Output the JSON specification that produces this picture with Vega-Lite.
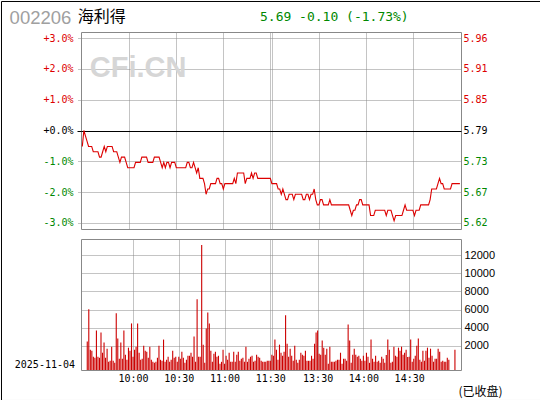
{
  "$schema": "https://vega.github.io/schema/vega-lite/v6.json",
  "padding": 0,
  "background": "white",
  "bounds": "flush",
  "spacing": 10,
  "config": {
    "view": {"stroke": "#888888", "strokeWidth": 1},
    "axis": {"gridColor": "#888888", "gridDash": [1, 1], "gridWidth": 1, "domain": false, "ticks": false, "title": null, "labelFont": "DejaVu Sans Mono", "labelFontSize": 10, "labelColor": "black", "labelOverlap": false, "labelFlush": false}
  },
  "data": {"values": [
    {"m":0,"p":5.76,"v":2481},{"m":1,"p":5.79,"v":6037},{"m":2,"p":5.78,"v":1593},{"m":3,"p":5.77,"v":1481},{"m":4,"p":5.76,"v":815},{"m":5,"p":5.76,"v":704},{"m":6,"p":5.76,"v":3704},{"m":7,"p":5.75,"v":815},{"m":8,"p":5.75,"v":704},{"m":9,"p":5.75,"v":3481},
    {"m":10,"p":5.75,"v":1259},{"m":11,"p":5.74,"v":2370},{"m":12,"p":5.74,"v":704},{"m":13,"p":5.75,"v":1704},{"m":14,"p":5.76,"v":259},{"m":15,"p":5.75,"v":370},{"m":16,"p":5.76,"v":1926},{"m":17,"p":5.76,"v":370},{"m":18,"p":5.76,"v":148},{"m":19,"p":5.76,"v":5593},
    {"m":20,"p":5.75,"v":2815},{"m":21,"p":5.75,"v":593},{"m":22,"p":5.75,"v":2370},{"m":23,"p":5.74,"v":593},{"m":24,"p":5.73,"v":3704},{"m":25,"p":5.74,"v":1037},{"m":26,"p":5.74,"v":481},{"m":27,"p":5.74,"v":1815},{"m":28,"p":5.73,"v":1481},{"m":29,"p":5.72,"v":4481},
    {"m":30,"p":5.72,"v":815},{"m":31,"p":5.72,"v":1593},{"m":32,"p":5.72,"v":1926},{"m":33,"p":5.72,"v":4481},{"m":34,"p":5.73,"v":1259},{"m":35,"p":5.73,"v":481},{"m":36,"p":5.73,"v":593},{"m":37,"p":5.73,"v":2037},{"m":38,"p":5.74,"v":1481},{"m":39,"p":5.74,"v":1370},
    {"m":40,"p":5.74,"v":704},{"m":41,"p":5.74,"v":1926},{"m":42,"p":5.73,"v":481},{"m":43,"p":5.73,"v":259},{"m":44,"p":5.73,"v":148},{"m":45,"p":5.73,"v":259},{"m":46,"p":5.74,"v":704},{"m":47,"p":5.74,"v":2037},{"m":48,"p":5.74,"v":481},{"m":49,"p":5.74,"v":370},
    {"m":50,"p":5.73,"v":2704},{"m":51,"p":5.72,"v":259},{"m":52,"p":5.73,"v":481},{"m":53,"p":5.72,"v":815},{"m":54,"p":5.73,"v":259},{"m":55,"p":5.73,"v":481},{"m":56,"p":5.72,"v":1481},{"m":57,"p":5.73,"v":704},{"m":58,"p":5.73,"v":815},{"m":59,"p":5.73,"v":259},
    {"m":60,"p":5.72,"v":815},{"m":61,"p":5.72,"v":593},{"m":62,"p":5.72,"v":1370},{"m":63,"p":5.72,"v":704},{"m":64,"p":5.72,"v":148},{"m":65,"p":5.72,"v":500},{"m":66,"p":5.72,"v":926},{"m":67,"p":5.73,"v":926},{"m":68,"p":5.73,"v":1259},{"m":69,"p":5.72,"v":815},
    {"m":70,"p":5.72,"v":3037},{"m":71,"p":5.73,"v":259},{"m":72,"p":5.72,"v":7150},{"m":73,"p":5.71,"v":815},{"m":74,"p":5.72,"v":815},{"m":75,"p":5.70,"v":13100},{"m":76,"p":5.70,"v":2148},{"m":77,"p":5.70,"v":148},{"m":78,"p":5.69,"v":3926},{"m":79,"p":5.67,"v":5667},
    {"m":80,"p":5.68,"v":4481},{"m":81,"p":5.68,"v":1481},{"m":82,"p":5.69,"v":259},{"m":83,"p":5.69,"v":1148},{"m":84,"p":5.69,"v":1370},{"m":85,"p":5.69,"v":815},{"m":86,"p":5.70,"v":926},{"m":87,"p":5.70,"v":37},{"m":88,"p":5.69,"v":259},{"m":89,"p":5.69,"v":1593},
    {"m":90,"p":5.68,"v":37},{"m":91,"p":5.69,"v":926},{"m":92,"p":5.69,"v":481},{"m":93,"p":5.69,"v":1259},{"m":94,"p":5.69,"v":259},{"m":95,"p":5.69,"v":259},{"m":96,"p":5.69,"v":1370},{"m":97,"p":5.70,"v":259},{"m":98,"p":5.69,"v":1037},{"m":99,"p":5.71,"v":1370},
    {"m":100,"p":5.71,"v":370},{"m":101,"p":5.71,"v":593},{"m":102,"p":5.71,"v":704},{"m":103,"p":5.71,"v":259},{"m":104,"p":5.69,"v":1926},{"m":105,"p":5.70,"v":259},{"m":106,"p":5.70,"v":593},{"m":107,"p":5.70,"v":815},{"m":108,"p":5.71,"v":926},{"m":109,"p":5.70,"v":259},
    {"m":110,"p":5.71,"v":370},{"m":111,"p":5.71,"v":1037},{"m":112,"p":5.70,"v":815},{"m":113,"p":5.70,"v":704},{"m":114,"p":5.70,"v":370},{"m":115,"p":5.70,"v":259},{"m":116,"p":5.70,"v":259},{"m":117,"p":5.70,"v":259},{"m":118,"p":5.70,"v":370},{"m":119,"p":5.70,"v":370},
    {"m":120,"p":5.70,"v":370},{"m":121,"p":5.69,"v":1037},{"m":122,"p":5.69,"v":926},{"m":123,"p":5.69,"v":2704},{"m":124,"p":5.69,"v":1593},{"m":125,"p":5.68,"v":481},{"m":126,"p":5.68,"v":2148},{"m":127,"p":5.67,"v":1259},{"m":128,"p":5.68,"v":926},{"m":129,"p":5.67,"v":1370},
    {"m":130,"p":5.66,"v":5370},{"m":131,"p":5.66,"v":2259},{"m":132,"p":5.67,"v":815},{"m":133,"p":5.67,"v":1704},{"m":134,"p":5.67,"v":926},{"m":135,"p":5.66,"v":370},{"m":136,"p":5.67,"v":2037},{"m":137,"p":5.67,"v":481},{"m":138,"p":5.67,"v":148},{"m":139,"p":5.67,"v":481},
    {"m":140,"p":5.67,"v":1259},{"m":141,"p":5.66,"v":1037},{"m":142,"p":5.66,"v":926},{"m":143,"p":5.67,"v":1481},{"m":144,"p":5.67,"v":370},{"m":145,"p":5.66,"v":370},{"m":146,"p":5.67,"v":370},{"m":147,"p":5.67,"v":926},{"m":148,"p":5.68,"v":593},{"m":149,"p":5.66,"v":2259},
    {"m":150,"p":5.65,"v":3481},{"m":151,"p":5.65,"v":3704},{"m":152,"p":5.66,"v":1148},{"m":153,"p":5.66,"v":1037},{"m":154,"p":5.65,"v":2593},{"m":155,"p":5.65,"v":1815},{"m":156,"p":5.65,"v":1037},{"m":157,"p":5.65,"v":1704},{"m":158,"p":5.66,"v":37},{"m":159,"p":5.65,"v":1926},
    {"m":160,"p":5.65,"v":259},{"m":161,"p":5.65,"v":259},{"m":162,"p":5.65,"v":259},{"m":163,"p":5.65,"v":370},{"m":164,"p":5.65,"v":481},{"m":165,"p":5.65,"v":481},{"m":166,"p":5.65,"v":1259},{"m":167,"p":5.65,"v":37},{"m":168,"p":5.65,"v":593},{"m":169,"p":5.65,"v":593},
    {"m":170,"p":5.65,"v":370},{"m":171,"p":5.64,"v":4370},{"m":172,"p":5.63,"v":2593},{"m":173,"p":5.64,"v":148},{"m":174,"p":5.64,"v":1037},{"m":175,"p":5.65,"v":1704},{"m":176,"p":5.65,"v":1037},{"m":177,"p":5.66,"v":815},{"m":178,"p":5.66,"v":926},{"m":179,"p":5.65,"v":593},
    {"m":180,"p":5.65,"v":370},{"m":181,"p":5.65,"v":926},{"m":182,"p":5.65,"v":370},{"m":183,"p":5.65,"v":1259},{"m":184,"p":5.63,"v":815},{"m":185,"p":5.63,"v":148},{"m":186,"p":5.63,"v":2704},{"m":187,"p":5.64,"v":593},{"m":188,"p":5.64,"v":259},{"m":189,"p":5.64,"v":926},
    {"m":190,"p":5.64,"v":259},{"m":191,"p":5.64,"v":370},{"m":192,"p":5.64,"v":148},{"m":193,"p":5.64,"v":815},{"m":194,"p":5.63,"v":593},{"m":195,"p":5.64,"v":148},{"m":196,"p":5.64,"v":1000},{"m":197,"p":5.64,"v":2704},{"m":198,"p":5.63,"v":1593},{"m":199,"p":5.62,"v":148},
    {"m":200,"p":5.63,"v":259},{"m":201,"p":5.63,"v":1926},{"m":202,"p":5.63,"v":926},{"m":203,"p":5.63,"v":815},{"m":204,"p":5.63,"v":1815},{"m":205,"p":5.64,"v":1481},{"m":206,"p":5.65,"v":1926},{"m":207,"p":5.64,"v":1037},{"m":208,"p":5.64,"v":1259},{"m":209,"p":5.64,"v":1593},
    {"m":210,"p":5.64,"v":800},{"m":211,"p":5.64,"v":815},{"m":212,"p":5.63,"v":2704},{"m":213,"p":5.64,"v":259},{"m":214,"p":5.64,"v":600},{"m":215,"p":5.64,"v":926},{"m":216,"p":5.65,"v":2037},{"m":217,"p":5.65,"v":2815},{"m":218,"p":5.65,"v":481},{"m":219,"p":5.65,"v":259},
    {"m":220,"p":5.65,"v":1481},{"m":221,"p":5.65,"v":370},{"m":222,"p":5.66,"v":1481},{"m":223,"p":5.68,"v":1815},{"m":224,"p":5.68,"v":704},{"m":225,"p":5.68,"v":1704},{"m":226,"p":5.68,"v":926},{"m":227,"p":5.69,"v":259},{"m":228,"p":5.70,"v":600},{"m":229,"p":5.69,"v":593},
    {"m":230,"p":5.69,"v":1704},{"m":231,"p":5.68,"v":1370},{"m":232,"p":5.68,"v":259},{"m":233,"p":5.68,"v":370},{"m":234,"p":5.68,"v":259},{"m":235,"p":5.68,"v":259},{"m":236,"p":5.69,"v":704},{"m":237,"p":5.69,"v":500},{"m":238,"p":5.69,"v":null},{"m":239,"p":5.69,"v":null},
    {"m":240,"p":5.69,"v":null},{"m":241,"p":5.69,"v":1593}
  ]},
  "vconcat": [
    {
      "width": 380,
      "height": 197,
      "resolve": {"axis": {"x": "independent", "y": "independent"}},
      "layer": [
        {
          "data": {"values": [{}]},
          "mark": {"type": "rect", "filled": false, "stroke": "black", "strokeWidth": 1},
          "encoding": {
            "x": {"datum": -51.57, "axis": null},
            "x2": {"datum": 292.44},
            "y": {"datum": 6.0327, "axis": null},
            "y2": {"datum": 5.2821}
          }
        },
        {
          "data": {"values": [{}]},
          "mark": {"type": "text", "text": "CFi.CN", "align": "left", "baseline": "alphabetic", "font": "Liberation Sans", "fontWeight": "bold", "fontSize": 29, "color": "#d6d6d6"},
          "encoding": {"x": {"datum": 4.8, "axis": null}, "y": {"datum": 5.8912, "axis": null}}
        },
        {
          "data": {"values": [{}]},
          "mark": {"type": "text", "text": "002206", "align": "left", "baseline": "alphabetic", "font": "Liberation Sans", "fontSize": 18.5, "color": "#a0a0a0"},
          "encoding": {"x": {"datum": -46.4, "axis": null}, "y": {"datum": 5.9896, "axis": null}}
        },
        {
          "data": {"values": [{}]},
          "mark": {"type": "text", "text": "海利得", "align": "left", "baseline": "alphabetic", "font": "Noto Sans CJK SC", "fontSize": 16, "color": "black"},
          "encoding": {"x": {"datum": -2.9, "axis": null}, "y": {"datum": 5.9937, "axis": null}}
        },
        {
          "data": {"values": [{}]},
          "mark": {"type": "text", "text": "5.69 -0.10 (-1.73%)", "align": "left", "baseline": "alphabetic", "font": "DejaVu Sans Mono", "fontSize": 13, "color": "#008800"},
          "encoding": {"x": {"datum": 113.4, "axis": null}, "y": {"datum": 5.9964, "axis": null}}
        },
        {
          "mark": {"type": "line", "color": "#dd0000", "strokeWidth": 1.1},
          "encoding": {
            "x": {"field": "m", "type": "quantitative", "scale": {"domain": [-0.83, 241.7], "nice": false, "zero": false},
                  "axis": {"orient": "bottom", "values": [30, 60, 90, 120, 121, 151, 181, 211], "labels": false, "grid": true}},
            "y": {"field": "p", "type": "quantitative", "scale": {"domain": [5.6047, 5.9753], "nice": false, "zero": false},
                  "axis": {"orient": "left", "values": [5.6163, 5.6742, 5.7321, 5.79, 5.8479, 5.9058, 5.9637], "grid": true,
                           "gridColor": {"condition": {"test": "datum.value == 5.79", "value": "black"}, "value": "#888888"},
                           "gridDash": {"condition": {"test": "datum.value == 5.79", "value": []}, "value": [1, 1]},
                           "ticks": true, "tickSize": 4,
                           "tickColor": {"condition": {"test": "datum.value == 5.79", "value": "black"}, "value": "#888888"},
                           "tickDash": {"condition": {"test": "datum.value == 5.79", "value": []}, "value": [1, 1]},
                           "labelPadding": 4,
                           "labelExpr": "replace(format((datum.value / 5.79 - 1) * 100, '+.1f'), '\u2212', '-') + '%'",
                           "labelColor": {"condition": [{"test": "datum.value > 5.8", "value": "#dd0000"}, {"test": "datum.value < 5.78", "value": "#008800"}], "value": "black"}}}
          }
        },
        {
          "mark": {"type": "line", "opacity": 0},
          "encoding": {
            "x": {"field": "m", "type": "quantitative", "axis": null},
            "y": {"field": "p", "type": "quantitative",
                  "axis": {"orient": "right", "values": [5.6163, 5.6742, 5.7321, 5.79, 5.8479, 5.9058, 5.9637], "grid": false, "labelPadding": 2, "format": ".2f",
                           "labelColor": {"condition": [{"test": "datum.value > 5.8", "value": "#dd0000"}, {"test": "datum.value < 5.78", "value": "#008800"}], "value": "black"}}}
          }
        }
      ]
    },
    {
      "width": 380,
      "height": 131,
      "resolve": {"axis": {"x": "independent", "y": "independent"}},
      "layer": [
        {
          "mark": {"type": "bar", "color": "#cc0000", "width": 1.1},
          "encoding": {
            "x": {"field": "m", "type": "quantitative", "scale": {"domain": [-0.83, 241.7], "nice": false, "zero": false},
                  "axis": {"orient": "bottom", "values": [30, 60, 90, 120, 121, 151, 181, 211], "grid": true, "labelPadding": 3,
                           "labelExpr": "datum.value == 30 ? '10:00' : datum.value == 60 ? '10:30' : datum.value == 90 ? '11:00' : datum.value == 120 ? '11:30' : datum.value == 151 ? '13:30' : datum.value == 181 ? '14:00' : datum.value == 211 ? '14:30' : ''"}},
            "y": {"field": "v", "type": "quantitative", "scale": {"domain": [-640, 13760], "nice": false, "zero": false},
                  "axis": {"orient": "right", "values": [2000, 4000, 6000, 8000, 10000, 12000], "grid": true, "format": "d", "labelFont": "Liberation Sans", "labelFontSize": 11, "labelPadding": 3}},
            "y2": {"datum": -640}
          }
        },
        {
          "data": {"values": [{}]},
          "mark": {"type": "text", "text": "2025-11-04", "align": "left", "baseline": "middle", "font": "DejaVu Sans Mono", "fontSize": 10, "color": "black"},
          "encoding": {"x": {"datum": -47.5, "axis": null}, "y": {"datum": -60, "axis": null}}
        },
        {
          "data": {"values": [{}]},
          "mark": {"type": "text", "text": "(已收盘)", "align": "left", "baseline": "middle", "font": "Noto Sans CJK SC", "fontSize": 12, "color": "black"},
          "encoding": {"x": {"datum": 243.3, "axis": null}, "y": {"datum": -3004, "axis": null}}
        }
      ]
    }
  ]
}
